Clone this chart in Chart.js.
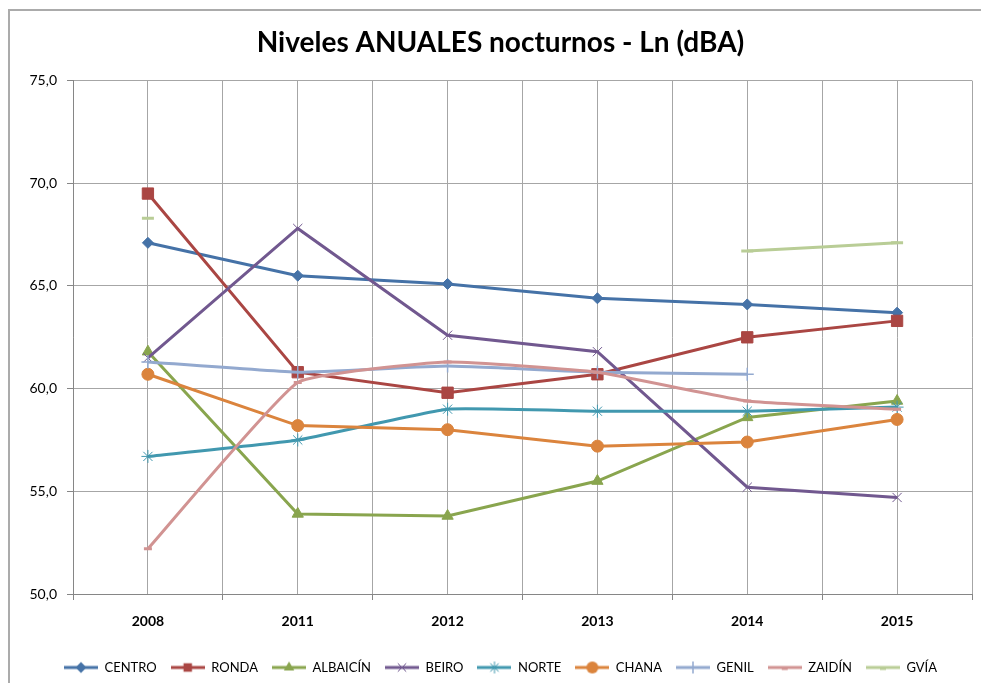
<!DOCTYPE html>
<html>
<head>
<meta charset="utf-8">
<script src="https://cdn.jsdelivr.net/npm/chart.js@4.4.1/dist/chart.umd.min.js"></script>
<style>
  html, body { margin: 0; padding: 0; background: #fff; }
  #wrap { width: 981px; height: 683px; position: relative; }
</style>
</head>
<body>
<div id="wrap"><canvas id="c" width="981" height="683"></canvas></div>
<script>
const categories = ['2008', '2011', '2012', '2013', '2014', '2015'];
const yTicks = [50, 55, 60, 65, 70, 75];

const centro   = [67.1, 65.5, 65.1, 64.4, 64.1, 63.7];
const ronda    = [69.5, 60.8, 59.8, 60.7, 62.5, 63.3];
const albaicin = [61.8, 53.9, 53.8, 55.5, 58.6, 59.4];
const beiro    = [61.5, 67.8, 62.6, 61.8, 55.2, 54.7];
const norte    = [56.7, 57.5, 59.0, 58.9, 58.9, 59.1];
const chana    = [60.7, 58.2, 58.0, 57.2, 57.4, 58.5];
const genil    = [61.3, 60.8, 61.1, 60.8, 60.7, null];
const zaidin   = [52.2, 60.3, 61.3, 60.8, 59.4, 59.0];
const gvia     = [68.3, null, null, null, 66.7, 67.1];

const seriesNames = ['CENTRO', 'RONDA', 'ALBAICÍN', 'BEIRO', 'NORTE', 'CHANA', 'GENIL', 'ZAIDÍN', 'GVÍA'];
const seriesValues = [centro, ronda, albaicin, beiro, norte, chana, genil, zaidin, gvia];

const styles = [
  { color: '#4572A7', point: 'rectRot',  r: 5.5, bw: 1, tension: 0 },
  { color: '#AA4643', point: 'rect',     r: 8,   bw: 1, tension: 0 },
  { color: '#89A54E', point: 'triangle', r: 6.5, bw: 1, tension: 0 },
  { color: '#71588F', point: 'crossRot', r: 6.5, bw: 1, tension: 0 },
  { color: '#4198AF', point: 'star',     r: 6.5, bw: 1, tension: 0.12 },
  { color: '#DB843D', point: 'circle',   r: 6,   bw: 1, tension: 0 },
  { color: '#93A9CF', point: 'cross',    r: 6.5, bw: 1.5, tension: 0.12 },
  { color: '#D19392', point: 'line',     r: 4,   bw: 3, tension: 0.12 },
  { color: '#B9CD96', point: 'line',     r: 6,   bw: 3, tension: 0.12 }
];

function drawMarker(ctx, style, x, y, r, color, bw) {
  ctx.save();
  ctx.fillStyle = color; ctx.strokeStyle = color; ctx.lineWidth = bw;
  ctx.beginPath();
  if (style === 'rectRot') {
    ctx.moveTo(x - r, y); ctx.lineTo(x, y - r); ctx.lineTo(x + r, y); ctx.lineTo(x, y + r); ctx.closePath(); ctx.fill();
  } else if (style === 'rect') {
    const s = r * Math.SQRT1_2; ctx.rect(x - s, y - s, 2 * s, 2 * s); ctx.fill();
  } else if (style === 'triangle') {
    ctx.moveTo(x, y - r); ctx.lineTo(x + r * 0.87, y + r * 0.5); ctx.lineTo(x - r * 0.87, y + r * 0.5); ctx.closePath(); ctx.fill();
  } else if (style === 'circle') {
    ctx.arc(x, y, r, 0, Math.PI * 2); ctx.fill();
  } else if (style === 'crossRot') {
    const s = r * 0.7; ctx.moveTo(x - s, y - s); ctx.lineTo(x + s, y + s); ctx.moveTo(x + s, y - s); ctx.lineTo(x - s, y + s); ctx.stroke();
  } else if (style === 'cross') {
    ctx.moveTo(x, y - r); ctx.lineTo(x, y + r); ctx.moveTo(x - r, y); ctx.lineTo(x + r, y); ctx.stroke();
  } else if (style === 'star') {
    const s = r * 0.7;
    ctx.moveTo(x, y - r); ctx.lineTo(x, y + r);
    ctx.moveTo(x - s, y - s); ctx.lineTo(x + s, y + s); ctx.moveTo(x + s, y - s); ctx.lineTo(x - s, y + s); ctx.stroke();
  } else if (style === 'line') {
    ctx.moveTo(x - r, y); ctx.lineTo(x + r, y); ctx.stroke();
  }
  ctx.restore();
}

function legendImage(st) {
  const c = document.createElement('canvas');
  c.width = 34; c.height = 16;
  const x = c.getContext('2d');
  x.strokeStyle = st.color; x.lineWidth = 3;
  x.beginPath(); x.moveTo(0, 8); x.lineTo(34, 8); x.stroke();
  if (st.point === 'line') {
    drawMarker(x, 'line', 17, 9, 3, st.color, 3);
  } else {
    drawMarker(x, st.point, 17, 8, Math.min(st.r, 6), st.color, st.bw);
  }
  return c;
}

const legendImgs = styles.map(legendImage);

const datasets = seriesNames.map((name, i) => ({
  label: name,
  data: seriesValues[i].map((v, k) => ({ x: k, y: v })),
  borderColor: styles[i].color,
  backgroundColor: styles[i].color,
  borderWidth: 3,
  pointStyle: styles[i].point,
  pointRadius: styles[i].r,
  pointHoverRadius: styles[i].r,
  pointBorderWidth: styles[i].bw,
  pointBackgroundColor: styles[i].color,
  pointBorderColor: styles[i].color,
  tension: styles[i].tension,
  spanGaps: false,
  order: seriesNames.length - i
}));

const framePlugin = {
  id: 'frame',
  beforeDraw(chart) {
    const ctx = chart.ctx;
    ctx.save();
    ctx.fillStyle = '#fff';
    ctx.fillRect(0, 0, chart.width, chart.height);
    ctx.strokeStyle = '#ABABAB';
    ctx.lineWidth = 2;
    ctx.beginPath();
    ctx.moveTo(9, chart.height); ctx.lineTo(9, 10); ctx.lineTo(chart.width, 10);
    ctx.stroke();
    ctx.restore();
  }
};

const FONT = 'Lato, "Open Sans", sans-serif';

new Chart(document.getElementById('c'), {
  type: 'line',
  data: { datasets },
  plugins: [framePlugin],
  options: {
    responsive: false,
    animation: false,
    layout: { padding: { left: 26, right: 6, top: 0, bottom: -1 } },
    plugins: {
      tooltip: { enabled: false },
      title: {
        display: true,
        text: 'Niveles ANUALES nocturnos - Ln (dBA)',
        color: '#000',
        font: { family: FONT, size: 28, weight: 'bold', lineHeight: 1.2 },
        padding: { top: 26, bottom: 21 }
      },
      legend: {
        position: 'bottom',
        labels: {
          color: '#000',
          font: { family: FONT, size: 13 },
          usePointStyle: true,
          pointStyleWidth: 34,
          padding: 14,
          generateLabels: (chart) => seriesNames.map((name, i) => ({
            text: name,
            pointStyle: legendImgs[i],
            fillStyle: styles[i].color,
            strokeStyle: styles[i].color,
            lineWidth: 0,
            hidden: false,
            datasetIndex: i,
            fontColor: '#000'
          }))
        }
      }
    },
    scales: {
      x: {
        type: 'linear',
        min: -0.5,
        max: 5.5,
        afterBuildTicks: (scale) => {
          const t = [];
          for (let k = -1; k <= 11; k++) t.push({ value: k / 2 });
          scale.ticks = t;
        },
        afterFit: (scale) => {
          scale.height = 53;
          scale.paddingLeft = 0;
          scale.paddingRight = 0;
        },
        ticks: {
          autoSkip: false,
          maxRotation: 0,
          padding: 0,
          color: '#000',
          font: { family: FONT, size: 14, weight: 'bold', lineHeight: '42px' },
          callback: (v) => (Math.abs(v - Math.round(v)) < 1e-6 ? categories[Math.round(v)] : '')
        },
        grid: {
          color: '#A6A6A6',
          lineWidth: 1,
          tickLength: 6,
          tickColor: (ctx) => (ctx.tick && Math.abs(ctx.tick.value - Math.round(ctx.tick.value)) > 1e-6 ? '#868686' : 'rgba(0,0,0,0)')
        },
        border: { color: '#868686', width: 1 }
      },
      y: {
        min: 50,
        max: 75,
        afterBuildTicks: (scale) => { scale.ticks = yTicks.map(v => ({ value: v })); },
        afterFit: (scale) => { scale.width = 47; },
        ticks: {
          padding: 10,
          color: '#000',
          font: { family: FONT, size: 14 },
          callback: (v) => v.toFixed(1).replace('.', ',')
        },
        grid: { color: '#A6A6A6', lineWidth: 1, tickLength: 6, tickColor: '#868686' },
        border: { color: '#868686', width: 1 }
      }
    }
  }
});
</script>
</body>
</html>
